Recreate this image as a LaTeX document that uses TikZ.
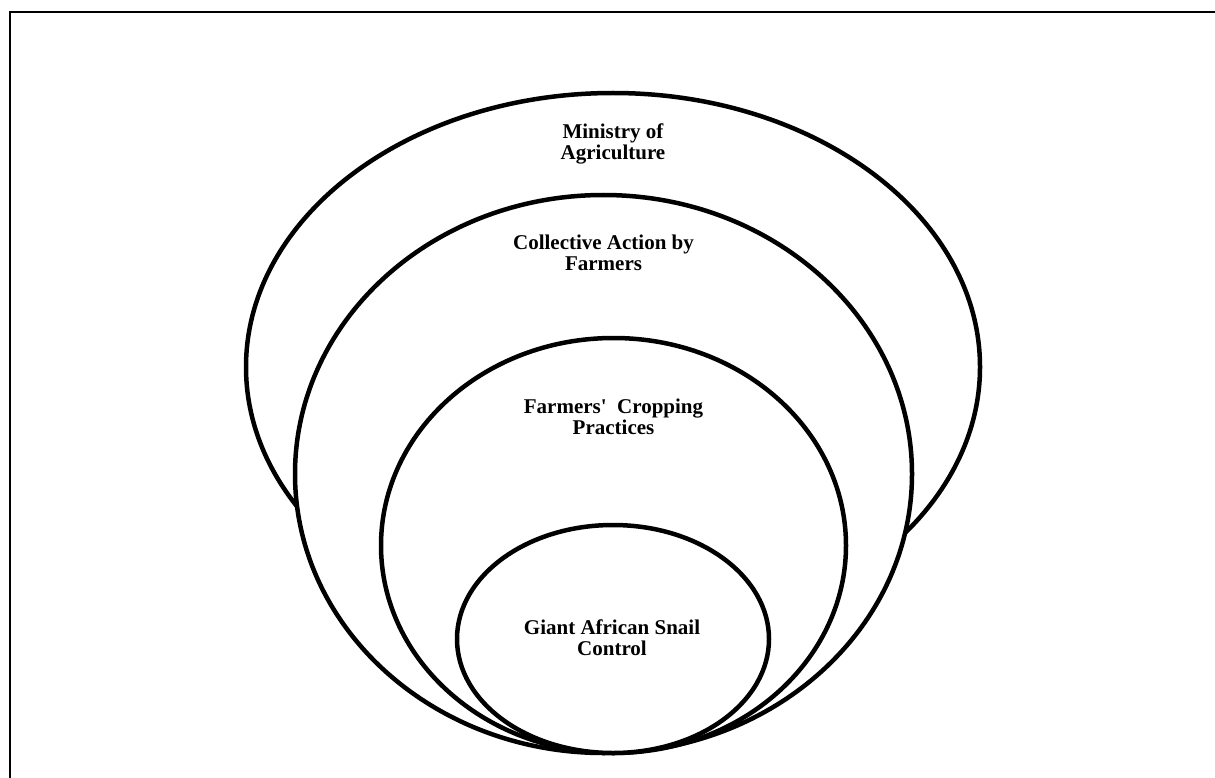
\documentclass[tikz,border=0pt]{standalone}
\usepackage{fontspec}
\setmainfont{Liberation Serif}
\usetikzlibrary{shapes.geometric}
\tikzset{
  ring/.style={ellipse, draw=black, line width=4.5pt, inner sep=0pt, minimum width=#1},
  whitering/.style={ring=#1, fill=white},
  lbl/.style={align=center, inner sep=0pt, font=\fontsize{21}{21}\selectfont\bfseries},
  frame/.style={line width=2.2pt, line cap=rect}
}
\begin{document}
\begin{tikzpicture}[x=1pt,y=-1pt]
\useasboundingbox (0,0) rectangle (1215,778);
\draw[frame] (10,778) -- (10,12) -- (1215,12);
% ellipses, outermost first
\node[ring=734pt, minimum height=548pt] (ministry) at (613,367) {};
\node[whitering=617pt, minimum height=558pt] (collective) at (603.5,474) {};
\node[whitering=465pt, minimum height=415pt] (cropping) at (613.5,545.5) {};
\node[whitering=312pt, minimum height=228pt] (snail) at (613,639) {};
% labels
\node[lbl] (tministry) at (613,143.5) {Ministry of\\Agriculture};
\node[lbl] (tcollective) at (603.5,253) {Collective Action by\\Farmers};
\node[lbl] (tcropping) at (613.5,416.5) {Farmers\textquotesingle\ \ Cropping\\Practices};
\node[lbl] (tsnail) at (612,637.5) {Giant African Snail\\Control};
\end{tikzpicture}
\end{document}
